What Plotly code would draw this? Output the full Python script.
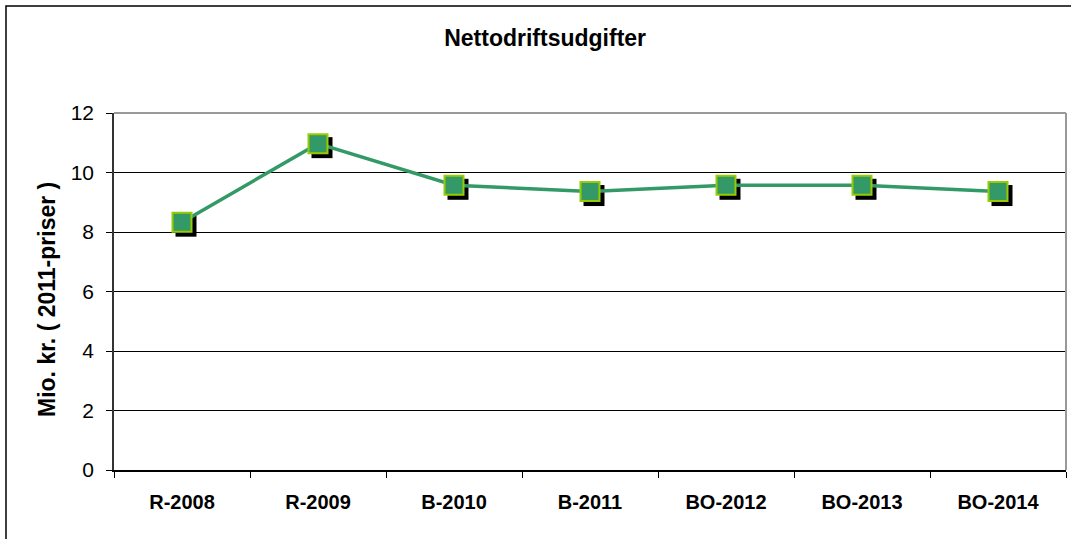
import plotly.graph_objects as go

categories = ["R-2008", "R-2009", "B-2010", "B-2011", "BO-2012", "BO-2013", "BO-2014"]
values = [8.33, 10.97, 9.57, 9.36, 9.57, 9.57, 9.36]
y_ticks = [0, 2, 4, 6, 8, 10, 12]

title_text = "Nettodriftsudgifter"
y_title = "Mio. kr. ( 2011-priser )"

W, H = 1071, 539
L, R, T, B = 114, 5, 113, 69
pw, ph = W - L - R, H - T - B
ymax = 12
shadow_px = 4
cat_w = pw / len(categories)
dx = shadow_px / cat_w
dy = shadow_px / (ph / ymax)

FONT = "Liberation Sans, Arial, sans-serif"
GREEN = "#339966"
LIME = "#99CC00"

fig = go.Figure()

# shadow (base subplot, shifted ranges)
fig.add_trace(go.Scatter(
    x=categories, y=values, xaxis="x", yaxis="y", mode="markers",
    marker=dict(symbol="square", size=21, color="black", line=dict(width=0)),
    hoverinfo="skip", showlegend=False,
))
# main series (overlay subplot, visible axes)
fig.add_trace(go.Scatter(
    x=categories, y=values, xaxis="x2", yaxis="y2", mode="lines+markers",
    line=dict(color=GREEN, width=3.5),
    marker=dict(symbol="square", size=19, color=GREEN, line=dict(color=LIME, width=2)),
    showlegend=False,
))

fig.update_layout(
    width=W, height=H,
    margin=dict(l=L, r=R, t=T, b=B),
    paper_bgcolor="white", plot_bgcolor="white",
    font=dict(family=FONT, color="black"),
    title=dict(text=title_text, x=0.509, xanchor="center", y=1 - 38 / H, yanchor="middle",
               font=dict(size=23, weight="bold", family=FONT, color="black")),
    xaxis=dict(type="category", categoryorder="array", categoryarray=categories,
               range=[-0.5 - dx, len(categories) - 0.5 - dx], visible=False),
    yaxis=dict(range=[0 + dy, ymax + dy], visible=False),
    xaxis2=dict(type="category", categoryorder="array", categoryarray=categories,
                overlaying="x", side="bottom",
                range=[-0.5, len(categories) - 0.5],
                showline=True, linecolor="black", linewidth=1.5,
                ticks="outside", tickson="boundaries", ticklen=6, tickcolor="black", tickwidth=1,
                showgrid=False, zeroline=False,
                tickfont=dict(size=20, weight="bold", family=FONT, color="black"),
                ticklabelstandoff=13),
    yaxis2=dict(overlaying="y", side="left", range=[0, ymax], tickvals=y_ticks,
                showline=True, linecolor="#333333", linewidth=1.5,
                ticks="outside", ticklen=6, tickcolor="black", tickwidth=1,
                showgrid=True, gridcolor="black", gridwidth=1, zeroline=False,
                tickfont=dict(size=21, family=FONT, color="black"),
                ticklabelstandoff=8),
    shapes=[
        # plot area top and right border (gray)
        dict(type="line", xref="paper", yref="paper", x0=0, x1=1, y0=1, y1=1,
             line=dict(color="#999999", width=2)),
        dict(type="line", xref="paper", yref="paper", x0=1, x1=1, y0=0, y1=1,
             line=dict(color="#999999", width=2)),
        # outer chart border
        dict(type="rect", xref="paper", yref="paper",
             x0=(6 - L) / pw, x1=(W + 10 - L) / pw,
             y0=1 - (H + 10 - T) / ph, y1=1 + (T - 6) / ph,
             line=dict(color="black", width=1.5), fillcolor="rgba(0,0,0,0)"),
    ],
    annotations=[
        dict(text=y_title, xref="paper", yref="paper", x=(47 - L) / pw, y=1 - (300 - T) / ph,
             xanchor="center", yanchor="middle", textangle=-90, showarrow=False,
             font=dict(size=23, weight="bold", family=FONT, color="black")),
    ],
)

fig.write_html("out.html", config={"displayModeBar": False},
               post_script="document.body.style.margin='0';document.body.style.overflow='hidden';")
